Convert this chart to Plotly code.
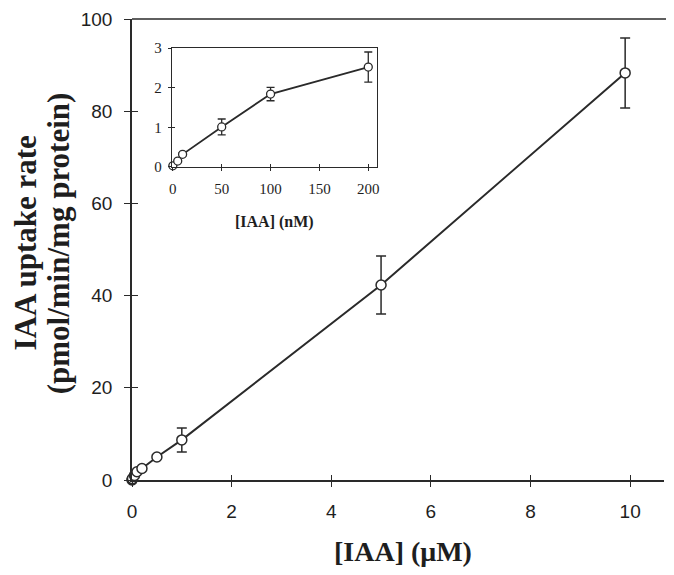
import plotly.graph_objects as go

# Main panel data (µM, pmol/min/mg protein)
main_x = [0, 0.005, 0.01, 0.05, 0.1, 0.2, 0.5, 1, 5, 9.9]
main_y = [0, 0.15, 0.3, 1.0, 1.8, 2.5, 5.0, 8.7, 42.3, 88.3]
main_err = [0, 0, 0, 0, 0, 0, 0.4, 2.6, 6.3, 7.6]
main_xticks = [0, 2, 4, 6, 8, 10]
main_yticks = [0, 20, 40, 60, 80, 100]

# Inset data (nM)
inset_x = [0, 5, 10, 50, 100, 200]
inset_y = [0.03, 0.15, 0.32, 1.01, 1.84, 2.52]
inset_err = [0, 0, 0.04, 0.2, 0.17, 0.38]
inset_xticks = [0, 50, 100, 150, 200]
inset_yticks = [0, 1, 2, 3]

LINE = "#2a2a2a"
TXT = "#1e1e1e"
fig = go.Figure()

fig.add_trace(go.Scatter(
    x=main_x, y=main_y, mode="lines+markers",
    line=dict(color=LINE, width=2),
    marker=dict(symbol="circle", size=10, color="white", line=dict(color=LINE, width=1.5)),
    error_y=dict(type="data", array=main_err, color=LINE, thickness=1.5, width=5),
    cliponaxis=False, xaxis="x", yaxis="y", showlegend=False))

fig.add_trace(go.Scatter(
    x=inset_x, y=inset_y, mode="lines+markers",
    line=dict(color=LINE, width=1.8),
    marker=dict(symbol="circle", size=8, color="white", line=dict(color=LINE, width=1.3)),
    error_y=dict(type="data", array=inset_err, color=LINE, thickness=1.3, width=4),
    cliponaxis=False, xaxis="x2", yaxis="y2", showlegend=False))

tickfont = dict(family="Liberation Sans, Arial", size=19, color=TXT)
serif_small = dict(family="Liberation Serif, Times New Roman", size=15, color=TXT)
SERIF = "Liberation Serif, Times New Roman"

# main plot area spans 124..666 px of a 658-wide figure
xr = [0, 10.68]
yr = [0, 100]
PW = 534.0
ix_dom = [40 / PW, 246 / PW]
iy_dom = [0.679, 0.937]
ixr = [-1, 209]
iyr = [0, 3]

fig.update_layout(
    width=658, height=559,
    margin=dict(l=124, r=0, t=11, b=87),
    paper_bgcolor="white", plot_bgcolor="white",
    xaxis=dict(domain=[0, 1], range=xr, anchor="y", tickvals=main_xticks,
               ticks="outside", ticklen=5, tickcolor=LINE, tickwidth=1,
               showline=True, linecolor=LINE, linewidth=1.5, mirror=False,
               showgrid=False, zeroline=False, tickfont=tickfont, ticklabelstandoff=8),
    yaxis=dict(domain=[0, 1], range=yr, anchor="x", tickvals=main_yticks,
               ticks="outside", ticklen=6, tickcolor=LINE, tickwidth=1,
               showline=True, linecolor=LINE, linewidth=1.5, mirror=False,
               showgrid=False, zeroline=False, tickfont=tickfont, ticklabelstandoff=8),
    xaxis3=dict(overlaying="x", range=xr, anchor="y", tickvals=main_xticks,
                ticks="inside", ticklen=5, tickcolor=LINE, showticklabels=False,
                showline=False, showgrid=False, zeroline=False),
    yaxis3=dict(overlaying="y", range=yr, anchor="x", tickvals=main_yticks,
                ticks="inside", ticklen=6, tickcolor=LINE, showticklabels=False,
                showline=False, showgrid=False, zeroline=False),
    xaxis2=dict(domain=ix_dom, range=ixr, anchor="y2", tickvals=inset_xticks,
                ticks="outside", ticklen=3, tickcolor=LINE,
                showline=True, linecolor=LINE, linewidth=1.2, mirror=True,
                showgrid=False, zeroline=False, tickfont=serif_small, ticklabelstandoff=5),
    yaxis2=dict(domain=iy_dom, range=iyr, anchor="x2", tickvals=inset_yticks,
                ticks="outside", ticklen=3, tickcolor=LINE,
                showline=True, linecolor=LINE, linewidth=1.2, mirror=True,
                showgrid=False, zeroline=False, tickfont=serif_small, ticklabelstandoff=3),
    xaxis4=dict(overlaying="x2", range=ixr, anchor="y2", tickvals=inset_xticks,
                ticks="inside", ticklen=3, tickcolor=LINE, showticklabels=False,
                showline=False, showgrid=False, zeroline=False),
    yaxis4=dict(overlaying="y2", range=iyr, anchor="x2", tickvals=inset_yticks,
                ticks="inside", ticklen=3, tickcolor=LINE, showticklabels=False,
                showline=False, showgrid=False, zeroline=False),
    shapes=[
        dict(type="rect", xref="x2 domain", yref="y2 domain", x0=0, x1=1, y0=0, y1=1,
             fillcolor="white", line=dict(width=0), layer="below"),
        dict(type="line", xref="paper", yref="paper", x0=0, x1=1.02, y0=1, y1=1,
             line=dict(color=LINE, width=1.5)),
    ],
    annotations=[
        dict(text="<b>[IAA] (μM)</b>", xref="paper", yref="paper", x=272 / PW, y=-0.156,
             showarrow=False, font=dict(family=SERIF, size=28, color=TXT),
             xanchor="center", yanchor="middle"),
        dict(text="<b>IAA uptake rate</b>", xref="paper", yref="paper",
             x=-107 / PW, y=0.514, textangle=-90, showarrow=False,
             font=dict(family=SERIF, size=31, color=TXT),
             xanchor="center", yanchor="middle"),
        dict(text="<b>(pmol/min/mg protein)</b>", xref="paper", yref="paper",
             x=-74 / PW, y=0.514, textangle=-90, showarrow=False,
             font=dict(family=SERIF, size=31, color=TXT),
             xanchor="center", yanchor="middle"),
        dict(text="<b>[IAA] (nM)</b>", xref="paper", yref="paper",
             x=(ix_dom[0] + ix_dom[1]) / 2, y=0.56, showarrow=False,
             font=dict(family=SERIF, size=16, color=TXT),
             xanchor="center", yanchor="middle"),
    ],
)

fig.add_trace(go.Scatter(x=[None], y=[None], xaxis="x3", yaxis="y3", showlegend=False))
fig.add_trace(go.Scatter(x=[None], y=[None], xaxis="x4", yaxis="y4", showlegend=False))

fig.write_html("out.html")
